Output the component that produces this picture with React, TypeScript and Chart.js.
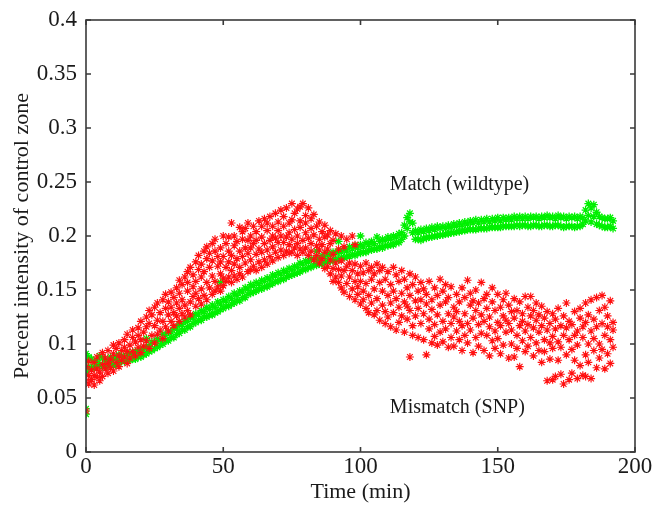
import React, { useEffect, useRef } from "react";
import { Chart, registerables } from "chart.js";

Chart.register(...registerables);

// ---- Data ----
const xTicks = [0, 50, 100, 150, 200];
const yTicks = [0, 0.05, 0.1, 0.15, 0.2, 0.25, 0.3, 0.35, 0.4];

// Green (Match, wildtype): rows of [time, value, value...]
const greenEarly = [
  [0, 0.084, 0.035, 0.072, 0.091, 0.076, 0.04], [1, 0.079, 0.088], [2, 0.086, 0.078], [3, 0.078, 0.083], [4, 0.085, 0.08], [5, 0.081, 0.089],
  [6, 0.087, 0.079], [7, 0.079, 0.085], [8, 0.084, 0.08], [9, 0.088, 0.082], [10, 0.08, 0.086], [11, 0.087, 0.081], [12, 0.083, 0.09],
  [13, 0.089, 0.084], [14, 0.084, 0.088], [15, 0.091, 0.085], [16, 0.085, 0.092], [17, 0.09, 0.086], [18, 0.086, 0.093], [19, 0.093, 0.088],
  [20, 0.088, 0.095], [21, 0.095, 0.09], [22, 0.091, 0.105, 0.097], [23, 0.098, 0.093], [24, 0.094, 0.102], [25, 0.101, 0.096], [26, 0.097, 0.105],
  [27, 0.104, 0.099], [28, 0.1, 0.109], [29, 0.108, 0.103], [30, 0.103, 0.111], [31, 0.111, 0.106], [32, 0.106, 0.115], [33, 0.114, 0.109],
  [34, 0.11, 0.118], [35, 0.118, 0.113], [36, 0.113, 0.121], [37, 0.121, 0.116], [38, 0.116, 0.125], [39, 0.124, 0.119], [40, 0.12, 0.128],
  [41, 0.127, 0.122], [42, 0.122, 0.131], [43, 0.13, 0.125], [44, 0.125, 0.134], [45, 0.132, 0.127], [46, 0.127, 0.136], [47, 0.134, 0.129],
  [48, 0.13, 0.139], [49, 0.137, 0.157, 0.132], [50, 0.133, 0.141], [51, 0.14, 0.135], [52, 0.135, 0.144], [53, 0.142, 0.137], [54, 0.138, 0.147],
  [55, 0.145, 0.14], [56, 0.14, 0.149], [57, 0.148, 0.143], [58, 0.143, 0.152], [59, 0.151, 0.146],
];
const greenMid = [
  [60, 0.147, 0.155], [61, 0.154, 0.148], [62, 0.149, 0.157], [63, 0.156, 0.151], [64, 0.151, 0.159], [65, 0.158, 0.153], [66, 0.153, 0.161],
  [67, 0.16, 0.155], [68, 0.156, 0.164], [69, 0.163, 0.158], [70, 0.158, 0.166], [71, 0.165, 0.16], [72, 0.16, 0.168], [73, 0.167, 0.162],
  [74, 0.163, 0.17], [75, 0.169, 0.164], [76, 0.165, 0.172], [77, 0.171, 0.166], [78, 0.167, 0.175], [79, 0.174, 0.169], [80, 0.169, 0.177],
  [81, 0.176, 0.171], [82, 0.171, 0.179], [83, 0.178, 0.173], [84, 0.173, 0.186, 0.18], [85, 0.179, 0.174], [86, 0.174, 0.182], [87, 0.181, 0.176],
  [88, 0.176, 0.184], [89, 0.182, 0.177], [90, 0.177, 0.185], [91, 0.184, 0.179], [92, 0.178, 0.195, 0.186], [93, 0.185, 0.18], [94, 0.18, 0.188],
  [95, 0.186, 0.181], [96, 0.181, 0.19], [97, 0.188, 0.183], [98, 0.182, 0.191], [99, 0.189, 0.184], [100, 0.184, 0.2, 0.192], [101, 0.19, 0.185],
  [102, 0.185, 0.194], [103, 0.192, 0.187], [104, 0.187, 0.195], [105, 0.193, 0.188], [106, 0.188, 0.199], [107, 0.195, 0.19], [108, 0.189, 0.197],
  [109, 0.196, 0.191], [110, 0.191, 0.199], [111, 0.197, 0.192], [112, 0.192, 0.2], [113, 0.199, 0.194], [114, 0.194, 0.202], [115, 0.203, 0.197],
  [116, 0.21, 0.2], [117, 0.217, 0.207], [118, 0.221, 0.213], [119, 0.212, 0.203], [120, 0.197, 0.205], [121, 0.203, 0.197], [122, 0.196, 0.206],
  [123, 0.204, 0.198], [124, 0.198, 0.207], [125, 0.205, 0.199], [126, 0.199, 0.208], [127, 0.206, 0.2], [128, 0.2, 0.209], [129, 0.207, 0.201],
];
const greenLate = [
  [130, 0.201, 0.209], [131, 0.207, 0.202], [132, 0.202, 0.21], [133, 0.208, 0.203], [134, 0.203, 0.211], [135, 0.209, 0.204], [136, 0.204, 0.212],
  [137, 0.21, 0.205], [138, 0.205, 0.213], [139, 0.211, 0.206], [140, 0.206, 0.214], [141, 0.212, 0.206], [142, 0.206, 0.215], [143, 0.212, 0.207],
  [144, 0.207, 0.215], [145, 0.213, 0.207], [146, 0.207, 0.216], [147, 0.213, 0.208], [148, 0.208, 0.216], [149, 0.214, 0.208], [150, 0.208, 0.217],
  [151, 0.214, 0.208], [152, 0.209, 0.217], [153, 0.215, 0.209], [154, 0.209, 0.217], [155, 0.215, 0.209], [156, 0.209, 0.218], [157, 0.216, 0.21],
  [158, 0.209, 0.218], [159, 0.216, 0.21], [160, 0.21, 0.218], [161, 0.216, 0.209], [162, 0.209, 0.218], [163, 0.217, 0.21], [164, 0.21, 0.218],
  [165, 0.216, 0.209], [166, 0.209, 0.218], [167, 0.217, 0.21], [168, 0.21, 0.219], [169, 0.217, 0.209], [170, 0.209, 0.218], [171, 0.216, 0.21],
  [172, 0.21, 0.219], [173, 0.217, 0.209], [174, 0.208, 0.218], [175, 0.216, 0.209], [176, 0.209, 0.218], [177, 0.217, 0.209], [178, 0.208, 0.218],
  [179, 0.216, 0.209], [180, 0.209, 0.218], [181, 0.217, 0.211], [182, 0.224, 0.214], [183, 0.23, 0.219], [184, 0.226, 0.213], [185, 0.229, 0.218],
  [186, 0.222, 0.211], [187, 0.21, 0.218], [188, 0.217, 0.209], [189, 0.208, 0.216], [190, 0.216, 0.208], [191, 0.209, 0.217], [192, 0.214, 0.207],
];

// Red (Mismatch, SNP): rows of [time, value, value...]
const redRise = [
  [0, 0.038, 0.066, 0.079], [1, 0.071, 0.084, 0.063], [2, 0.076, 0.067], [3, 0.083, 0.062, 0.071], [4, 0.069, 0.088, 0.077], [5, 0.074, 0.066],
  [6, 0.081, 0.07, 0.092], [7, 0.077, 0.087], [8, 0.073, 0.094, 0.082], [9, 0.086, 0.078], [10, 0.091, 0.075, 0.099], [11, 0.083, 0.096],
  [12, 0.079, 0.101, 0.089], [13, 0.094, 0.085], [14, 0.104, 0.088, 0.097], [15, 0.082, 0.109, 0.093], [16, 0.099, 0.087], [17, 0.106, 0.093, 0.113],
  [18, 0.089, 0.102], [19, 0.115, 0.097, 0.108], [20, 0.092, 0.121, 0.104], [21, 0.111, 0.098], [22, 0.125, 0.103, 0.116], [23, 0.096, 0.119, 0.131],
  [24, 0.108, 0.127], [25, 0.101, 0.134, 0.117], [26, 0.122, 0.109, 0.138], [27, 0.113, 0.129], [28, 0.105, 0.141, 0.121], [29, 0.133, 0.116, 0.146],
  [30, 0.112, 0.127, 0.139], [31, 0.148, 0.121, 0.134], [32, 0.117, 0.143, 0.129], [33, 0.152, 0.126, 0.138], [34, 0.121, 0.147, 0.133, 0.159],
  [35, 0.141, 0.128, 0.155], [36, 0.136, 0.162, 0.125], [37, 0.149, 0.131, 0.167, 0.157], [38, 0.139, 0.171, 0.127], [39, 0.153, 0.144, 0.164],
  [40, 0.135, 0.176, 0.158, 0.147], [41, 0.169, 0.142, 0.182], [42, 0.151, 0.137, 0.174, 0.162], [43, 0.186, 0.145, 0.167], [44, 0.157, 0.179, 0.141, 0.19],
  [45, 0.171, 0.152, 0.184], [46, 0.146, 0.163, 0.193, 0.177], [47, 0.197, 0.158, 0.149, 0.186], [48, 0.172, 0.153, 0.181], [49, 0.165, 0.189, 0.149, 0.176],
];
const redPeak = [
  [50, 0.2, 0.161, 0.181, 0.154], [51, 0.171, 0.193, 0.158], [52, 0.186, 0.162, 0.199, 0.176], [53, 0.212, 0.168, 0.182, 0.157], [54, 0.191, 0.174, 0.2, 0.163],
  [55, 0.179, 0.16, 0.195], [56, 0.208, 0.171, 0.186, 0.165], [57, 0.197, 0.181, 0.162, 0.204], [58, 0.175, 0.207, 0.189], [59, 0.212, 0.167, 0.184, 0.196],
  [60, 0.178, 0.2, 0.169, 0.189], [61, 0.209, 0.172, 0.193], [62, 0.183, 0.204, 0.168, 0.196], [63, 0.214, 0.176, 0.188], [64, 0.199, 0.171, 0.209, 0.185],
  [65, 0.178, 0.216, 0.193], [66, 0.205, 0.174, 0.187, 0.212], [67, 0.196, 0.218, 0.181], [68, 0.177, 0.209, 0.19, 0.2], [69, 0.221, 0.185, 0.198],
  [70, 0.18, 0.213, 0.194, 0.205], [71, 0.224, 0.187, 0.2], [72, 0.182, 0.209, 0.218, 0.194], [73, 0.199, 0.226, 0.186], [74, 0.212, 0.184, 0.203, 0.192],
  [75, 0.23, 0.197, 0.185, 0.215], [76, 0.189, 0.221, 0.206], [77, 0.2, 0.225, 0.182, 0.193], [78, 0.214, 0.188, 0.208, 0.227], [79, 0.196, 0.23, 0.185],
  [80, 0.219, 0.189, 0.203, 0.212], [81, 0.182, 0.226, 0.198], [82, 0.207, 0.186, 0.216, 0.193], [83, 0.178, 0.201, 0.22], [84, 0.191, 0.209, 0.182],
  [85, 0.213, 0.175, 0.197, 0.187], [86, 0.204, 0.179, 0.192], [87, 0.17, 0.199, 0.185, 0.21], [88, 0.188, 0.172, 0.201], [89, 0.165, 0.193, 0.178, 0.205],
];
const redFall = [
  [90, 0.183, 0.158, 0.196, 0.17], [91, 0.162, 0.202, 0.175], [92, 0.188, 0.157, 0.169], [93, 0.2, 0.152, 0.177, 0.163], [94, 0.168, 0.148, 0.19],
  [95, 0.156, 0.197, 0.172], [96, 0.144, 0.162, 0.175], [97, 0.2, 0.151, 0.168], [98, 0.158, 0.141, 0.174, 0.192], [99, 0.165, 0.146, 0.153],
  [100, 0.137, 0.172, 0.158], [101, 0.149, 0.166, 0.141], [102, 0.175, 0.133, 0.156], [103, 0.145, 0.168, 0.129], [104, 0.16, 0.138, 0.171],
  [105, 0.127, 0.151, 0.165], [106, 0.142, 0.174, 0.131], [107, 0.157, 0.122, 0.168], [108, 0.136, 0.149, 0.171], [109, 0.119, 0.16, 0.13],
  [110, 0.145, 0.167, 0.125], [111, 0.116, 0.138, 0.155], [112, 0.171, 0.129, 0.149], [113, 0.113, 0.142, 0.164], [114, 0.134, 0.158, 0.12],
  [115, 0.168, 0.126, 0.147], [116, 0.139, 0.111, 0.16], [117, 0.152, 0.123, 0.135], [118, 0.088, 0.165, 0.131, 0.145], [119, 0.117, 0.155, 0.108],
  [120, 0.14, 0.126, 0.162], [121, 0.106, 0.149, 0.133], [122, 0.157, 0.119, 0.141], [123, 0.128, 0.104, 0.151], [124, 0.09, 0.137, 0.146],
  [125, 0.114, 0.158, 0.123], [126, 0.101, 0.141, 0.132], [127, 0.152, 0.118, 0.107], [128, 0.127, 0.145, 0.099], [129, 0.16, 0.111, 0.136],
  [130, 0.121, 0.102, 0.149], [131, 0.139, 0.114, 0.155], [132, 0.097, 0.128, 0.143], [133, 0.119, 0.153, 0.106], [134, 0.134, 0.098, 0.125],
  [135, 0.146, 0.112, 0.13], [136, 0.104, 0.139, 0.121], [137, 0.152, 0.117, 0.094], [138, 0.128, 0.108, 0.143], [139, 0.159, 0.119, 0.101],
];
const redTail = [
  [140, 0.136, 0.113, 0.147], [141, 0.092, 0.124, 0.14], [142, 0.15, 0.106, 0.131], [143, 0.118, 0.098, 0.138], [144, 0.157, 0.127, 0.11],
  [145, 0.142, 0.094, 0.121], [146, 0.108, 0.133, 0.146], [147, 0.125, 0.089, 0.116], [148, 0.139, 0.103, 0.152], [149, 0.112, 0.131, 0.096],
  [150, 0.146, 0.12, 0.105], [151, 0.091, 0.134, 0.117], [152, 0.126, 0.141, 0.099], [153, 0.147, 0.111, 0.122], [154, 0.087, 0.119, 0.136],
  [155, 0.13, 0.1, 0.113], [156, 0.088, 0.142, 0.124], [157, 0.108, 0.131, 0.096], [158, 0.079, 0.117, 0.139], [159, 0.128, 0.103, 0.121],
  [160, 0.144, 0.093, 0.112], [161, 0.118, 0.134, 0.098], [162, 0.106, 0.144, 0.126], [163, 0.089, 0.115, 0.131], [164, 0.122, 0.101, 0.138],
  [165, 0.094, 0.111, 0.127], [166, 0.135, 0.083, 0.117], [167, 0.104, 0.124, 0.093], [168, 0.066, 0.113, 0.13], [169, 0.119, 0.086, 0.101],
  [170, 0.067, 0.128, 0.107, 0.096], [171, 0.114, 0.07, 0.123], [172, 0.085, 0.133, 0.102], [173, 0.072, 0.117, 0.097], [174, 0.126, 0.063, 0.108],
  [175, 0.138, 0.09, 0.115], [176, 0.067, 0.104, 0.121], [177, 0.095, 0.118, 0.073], [178, 0.13, 0.085, 0.108], [179, 0.068, 0.112, 0.099],
  [180, 0.124, 0.08, 0.133], [181, 0.071, 0.106, 0.116], [182, 0.138, 0.09, 0.12, 0.07], [183, 0.1, 0.127, 0.083], [184, 0.141, 0.112, 0.068],
  [185, 0.094, 0.123, 0.105], [186, 0.143, 0.078, 0.116], [187, 0.131, 0.1, 0.087], [188, 0.119, 0.145, 0.095], [189, 0.108, 0.077, 0.134],
  [190, 0.126, 0.091, 0.116], [191, 0.14, 0.104, 0.082], [192, 0.12, 0.097, 0.113],
];

const annotations = [
  { text: "Match (wildtype)", x: 110.7, y: 0.247 },
  { text: "Mismatch (SNP)", x: 110.7, y: 0.041 },
];

const FONT = "'Liberation Serif', 'Times New Roman', serif";

function toPoints(...groups: number[][][]) {
  const pts: { x: number; y: number }[] = [];
  for (const g of groups) for (const row of g) for (let i = 1; i < row.length; i++) pts.push({ x: row[0], y: row[i] });
  return pts;
}

const framePlugin = {
  id: "frameAndTicks",
  afterDatasetsDraw(chart: any) {
    const { ctx, chartArea: a, scales } = chart;
    ctx.save();
    ctx.strokeStyle = "#3a3a3a";
    ctx.lineWidth = 1.6;
    ctx.strokeRect(a.left, a.top, a.right - a.left, a.bottom - a.top);
    const L = 5;
    ctx.beginPath();
    for (const v of xTicks) {
      const px = scales.x.getPixelForValue(v);
      ctx.moveTo(px, a.bottom); ctx.lineTo(px, a.bottom - L);
      ctx.moveTo(px, a.top); ctx.lineTo(px, a.top + L);
    }
    for (const v of yTicks) {
      const py = scales.y.getPixelForValue(v);
      ctx.moveTo(a.left, py); ctx.lineTo(a.left + L, py);
      ctx.moveTo(a.right, py); ctx.lineTo(a.right - L, py);
    }
    ctx.stroke();
    ctx.fillStyle = "#1a1a1a";
    ctx.font = `20px ${FONT}`;
    ctx.textAlign = "left";
    ctx.textBaseline = "middle";
    for (const an of annotations) {
      ctx.fillText(an.text, scales.x.getPixelForValue(an.x), scales.y.getPixelForValue(an.y));
    }
    ctx.restore();
  },
};

export default function App() {
  const ref = useRef<HTMLCanvasElement | null>(null);
  useEffect(() => {
    if (!ref.current) return;
    const chart = new Chart(ref.current, {
      type: "scatter",
      data: {
        datasets: [
          {
            label: "Mismatch (SNP)",
            data: toPoints(redRise, redPeak, redFall, redTail),
            pointStyle: "star",
            radius: 4,
            borderColor: "#ff1010",
            backgroundColor: "#ff1010",
            borderWidth: 1.15,
          },
          {
            label: "Match (wildtype)",
            data: toPoints(greenEarly, greenMid, greenLate),
            pointStyle: "star",
            radius: 4,
            borderColor: "#00f000",
            backgroundColor: "#00f000",
            borderWidth: 1.3,
          },
        ],
      },
      options: {
        animation: false,
        responsive: false,
        maintainAspectRatio: false,
        layout: { padding: { top: 20, right: 18, left: 0, bottom: 0 } },
        plugins: { legend: { display: false }, tooltip: { enabled: false } },
        scales: {
          x: {
            type: "linear",
            min: 0,
            max: 200,
            afterBuildTicks: (s: any) => { s.ticks = xTicks.map((v) => ({ value: v })); },
            afterFit: (s: any) => { s.height = 54; s.paddingLeft = 0; s.paddingRight = 0; },
            ticks: { color: "#1a1a1a", font: { family: FONT, size: 23 }, padding: 1, maxRotation: 0 },
            grid: { display: false, drawTicks: false },
            border: { display: false },
            title: { display: true, text: "Time (min)", color: "#1a1a1a", font: { family: FONT, size: 22 }, padding: { top: 0, bottom: 1 } },
          },
          y: {
            type: "linear",
            min: 0,
            max: 0.4,
            afterBuildTicks: (s: any) => { s.ticks = yTicks.map((v) => ({ value: v })); },
            afterFit: (s: any) => { s.width = 86; s.paddingTop = 0; s.paddingBottom = 0; },
            ticks: {
              color: "#1a1a1a",
              font: { family: FONT, size: 23 },
              padding: 9,
              callback: (v: any) => String(Number(Number(v).toFixed(2))),
            },
            grid: { display: false, drawTicks: false },
            border: { display: false },
            title: { display: true, text: "Percent intensity of control zone", color: "#1a1a1a", font: { family: FONT, size: 22 }, padding: { top: 9, bottom: 0 } },
          },
        },
      },
      plugins: [framePlugin],
    } as any);
    return () => chart.destroy();
  }, []);
  return (
    <div style={{ position: "fixed", left: 0, top: 0, width: 653, height: 506, background: "#fff" }}>
      <canvas ref={ref} width={653} height={506} style={{ width: 653, height: 506, display: "block" }} />
    </div>
  );
}
